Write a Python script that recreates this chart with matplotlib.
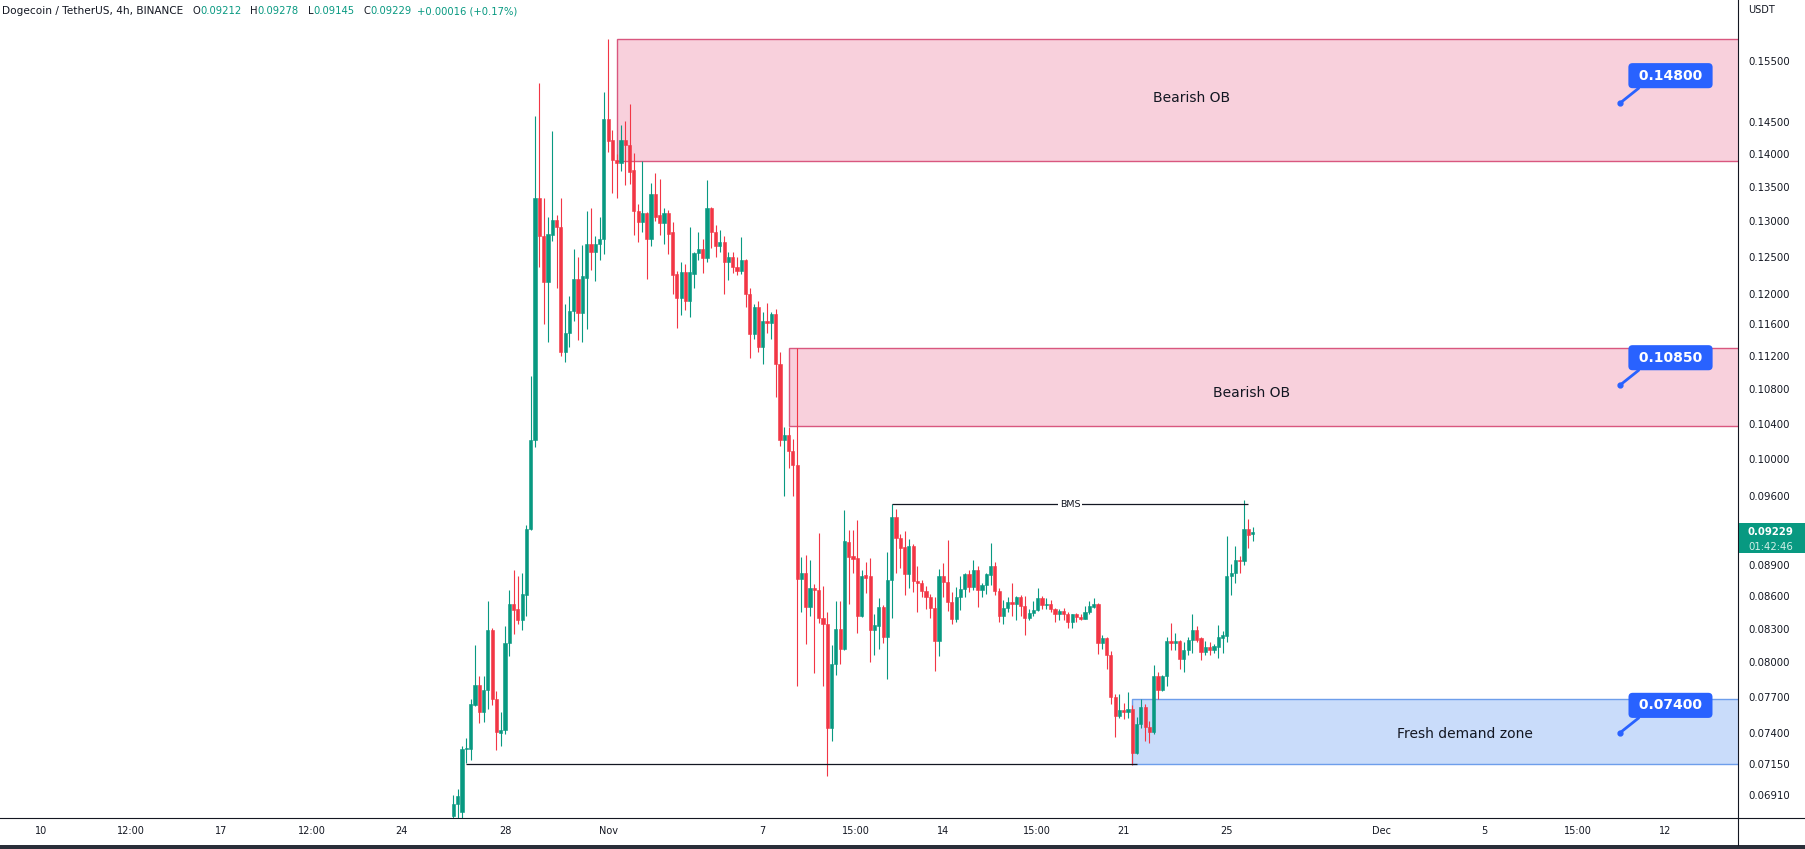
import matplotlib
matplotlib.use("Agg")
import matplotlib.pyplot as plt
import matplotlib.dates as mdates
from matplotlib.patches import Rectangle
from matplotlib.lines import Line2D
from matplotlib.ticker import NullLocator
import numpy as np
import pandas as pd

# DOGE/USDT 4h candles, first candle 2022-10-26 00:00
opens = [0.0675, 0.0684, 0.0678, 0.0727, 0.0727, 0.0763, 0.0780, 0.0757, 0.0776, 0.0829,
         0.0768, 0.0740, 0.0742, 0.0817, 0.0853, 0.0848, 0.0838, 0.0861, 0.0926, 0.1022,
         0.1334, 0.1278, 0.1216, 0.1280, 0.1302, 0.1291, 0.1126, 0.1149, 0.1177, 0.1219,
         0.1175, 0.1221, 0.1267, 0.1257, 0.1267, 0.1274, 0.1455, 0.1421, 0.1390, 0.1385,
         0.1421, 0.1414, 0.1375, 0.1315, 0.1298, 0.1311, 0.1275, 0.1339, 0.1309, 0.1297,
         0.1311, 0.1284, 0.1226, 0.1194, 0.1229, 0.1190, 0.1226, 0.1255, 0.1261, 0.1248,
         0.1319, 0.1285, 0.1264, 0.1270, 0.1243, 0.1249, 0.1236, 0.1231, 0.1246, 0.1200,
         0.1148, 0.1183, 0.1132, 0.1165, 0.1162, 0.1173, 0.1111, 0.1021, 0.1027, 0.1009,
         0.0994, 0.0877, 0.0882, 0.0850, 0.0868, 0.0866, 0.0840, 0.0834, 0.0744, 0.0798,
         0.0830, 0.0812, 0.0913, 0.0899, 0.0897, 0.0842, 0.0880, 0.0879, 0.0829, 0.0832,
         0.0850, 0.0822, 0.0876, 0.0938, 0.0917, 0.0908, 0.0881, 0.0909, 0.0875, 0.0873,
         0.0865, 0.0859, 0.0849, 0.0819, 0.0879, 0.0874, 0.0855, 0.0839, 0.0859, 0.0867,
         0.0881, 0.0869, 0.0885, 0.0866, 0.0871, 0.0880, 0.0889, 0.0865, 0.0842, 0.0849,
         0.0855, 0.0853, 0.0859, 0.0851, 0.0840, 0.0844, 0.0847, 0.0858, 0.0852, 0.0853,
         0.0848, 0.0843, 0.0846, 0.0843, 0.0836, 0.0843, 0.0841, 0.0839, 0.0845, 0.0850,
         0.0853, 0.0817, 0.0821, 0.0806, 0.0770, 0.0754, 0.0759, 0.0757, 0.0760, 0.0724,
         0.0747, 0.0761, 0.0745, 0.0741, 0.0788, 0.0776, 0.0788, 0.0819, 0.0817, 0.0819,
         0.0803, 0.0811, 0.0820, 0.0829, 0.0821, 0.0809, 0.0813, 0.0811, 0.0813, 0.0821,
         0.0823, 0.0879, 0.0882, 0.0895, 0.0894, 0.0926, 0.09212]
highs = [0.0691, 0.0696, 0.0729, 0.0736, 0.0768, 0.0815, 0.0788, 0.0788, 0.0856, 0.0831,
         0.0775, 0.0757, 0.0832, 0.0866, 0.0885, 0.0879, 0.0882, 0.0930, 0.1096, 0.1459,
         0.1514, 0.1333, 0.1306, 0.1435, 0.1309, 0.1333, 0.1186, 0.1197, 0.1261, 0.1250,
         0.1266, 0.1314, 0.1318, 0.1278, 0.1306, 0.1499, 0.1589, 0.1437, 0.1400, 0.1445,
         0.1451, 0.1479, 0.1401, 0.1325, 0.1388, 0.1313, 0.1356, 0.1370, 0.1361, 0.1319,
         0.1316, 0.1299, 0.1231, 0.1243, 0.1240, 0.1291, 0.1256, 0.1284, 0.1275, 0.1360,
         0.1320, 0.1294, 0.1287, 0.1278, 0.1257, 0.1257, 0.1249, 0.1277, 0.1247, 0.1208,
         0.1187, 0.1190, 0.1176, 0.1188, 0.1176, 0.1180, 0.1126, 0.1036, 0.1036, 0.1023,
         0.1130, 0.0898, 0.0900, 0.0895, 0.0872, 0.0922, 0.0870, 0.0845, 0.0815, 0.0856,
         0.0856, 0.0946, 0.0925, 0.0925, 0.0935, 0.0885, 0.0893, 0.0897, 0.0843, 0.0858,
         0.0852, 0.0903, 0.0952, 0.0947, 0.0921, 0.0924, 0.0916, 0.0911, 0.0889, 0.0876,
         0.0870, 0.0862, 0.0859, 0.0886, 0.0892, 0.0915, 0.0864, 0.0869, 0.0879, 0.0882,
         0.0885, 0.0895, 0.0889, 0.0873, 0.0882, 0.0912, 0.0893, 0.0868, 0.0857, 0.0859,
         0.0873, 0.0860, 0.0861, 0.0860, 0.0848, 0.0856, 0.0868, 0.0860, 0.0858, 0.0857,
         0.0849, 0.0848, 0.0849, 0.0845, 0.0843, 0.0844, 0.0843, 0.0851, 0.0856, 0.0858,
         0.0854, 0.0824, 0.0822, 0.0810, 0.0772, 0.0772, 0.0765, 0.0774, 0.0763, 0.0753,
         0.0768, 0.0764, 0.0750, 0.0797, 0.0791, 0.0789, 0.0822, 0.0835, 0.0826, 0.0820,
         0.0818, 0.0822, 0.0843, 0.0832, 0.0822, 0.0819, 0.0818, 0.0816, 0.0833, 0.0828,
         0.0919, 0.0891, 0.0909, 0.0899, 0.0956, 0.0936, 0.09278]
lows = [0.0665, 0.0672, 0.0672, 0.0716, 0.0718, 0.0762, 0.0748, 0.0749, 0.0760, 0.0763,
        0.0726, 0.0729, 0.0739, 0.0805, 0.0825, 0.0834, 0.0829, 0.0842, 0.0925, 0.1014,
        0.1236, 0.1160, 0.1138, 0.1271, 0.1208, 0.1121, 0.1113, 0.1132, 0.1165, 0.1140,
        0.1138, 0.1154, 0.1232, 0.1217, 0.1245, 0.1254, 0.1403, 0.1340, 0.1333, 0.1373,
        0.1352, 0.1354, 0.1280, 0.1270, 0.1285, 0.1219, 0.1264, 0.1300, 0.1280, 0.1267,
        0.1254, 0.1200, 0.1156, 0.1172, 0.1179, 0.1170, 0.1207, 0.1245, 0.1227, 0.1242,
        0.1262, 0.1250, 0.1257, 0.1200, 0.1218, 0.1228, 0.1225, 0.1226, 0.1182, 0.1118,
        0.1141, 0.1125, 0.1111, 0.1149, 0.1141, 0.1071, 0.1015, 0.0960, 0.0990, 0.0960,
        0.0779, 0.0845, 0.0816, 0.0842, 0.0790, 0.0835, 0.0779, 0.0706, 0.0733, 0.0789,
        0.0798, 0.0811, 0.0853, 0.0882, 0.0826, 0.0841, 0.0863, 0.0800, 0.0806, 0.0812,
        0.0817, 0.0785, 0.0840, 0.0882, 0.0887, 0.0861, 0.0868, 0.0864, 0.0845, 0.0859,
        0.0848, 0.0840, 0.0792, 0.0805, 0.0859, 0.0846, 0.0834, 0.0836, 0.0847, 0.0859,
        0.0864, 0.0866, 0.0850, 0.0859, 0.0862, 0.0871, 0.0861, 0.0836, 0.0834, 0.0845,
        0.0842, 0.0838, 0.0842, 0.0824, 0.0838, 0.0842, 0.0846, 0.0848, 0.0848, 0.0845,
        0.0836, 0.0838, 0.0838, 0.0831, 0.0831, 0.0836, 0.0838, 0.0839, 0.0843, 0.0849,
        0.0807, 0.0812, 0.0794, 0.0764, 0.0737, 0.0752, 0.0751, 0.0752, 0.0714, 0.0723,
        0.0744, 0.0733, 0.0732, 0.0739, 0.0768, 0.0775, 0.0779, 0.0811, 0.0811, 0.0794,
        0.0791, 0.0806, 0.0808, 0.0818, 0.0802, 0.0806, 0.0806, 0.0808, 0.0804, 0.0808,
        0.0818, 0.0861, 0.0873, 0.0882, 0.0890, 0.0907, 0.09145]
closes = [0.0684, 0.0690, 0.0727, 0.0728, 0.0764, 0.0780, 0.0757, 0.0776, 0.0829, 0.0768,
          0.0741, 0.0742, 0.0817, 0.0853, 0.0847, 0.0838, 0.0862, 0.0926, 0.1022, 0.1334,
          0.1278, 0.1216, 0.1282, 0.1302, 0.1291, 0.1126, 0.1149, 0.1177, 0.1219, 0.1175,
          0.1224, 0.1267, 0.1257, 0.1267, 0.1274, 0.1455, 0.1419, 0.1390, 0.1385, 0.1421,
          0.1413, 0.1372, 0.1314, 0.1298, 0.1311, 0.1275, 0.1339, 0.1306, 0.1297, 0.1311,
          0.1282, 0.1225, 0.1194, 0.1229, 0.1190, 0.1229, 0.1255, 0.1261, 0.1248, 0.1319,
          0.1284, 0.1264, 0.1270, 0.1243, 0.1249, 0.1236, 0.1231, 0.1246, 0.1200, 0.1148,
          0.1183, 0.1132, 0.1165, 0.1162, 0.1173, 0.1111, 0.1022, 0.1027, 0.1009, 0.0994,
          0.0877, 0.0882, 0.0850, 0.0868, 0.0866, 0.0840, 0.0834, 0.0744, 0.0798, 0.0830,
          0.0812, 0.0914, 0.0898, 0.0896, 0.0842, 0.0879, 0.0878, 0.0829, 0.0833, 0.0850,
          0.0822, 0.0876, 0.0938, 0.0917, 0.0907, 0.0881, 0.0909, 0.0875, 0.0873, 0.0865,
          0.0859, 0.0849, 0.0819, 0.0879, 0.0874, 0.0855, 0.0839, 0.0859, 0.0867, 0.0881,
          0.0869, 0.0885, 0.0866, 0.0871, 0.0881, 0.0889, 0.0865, 0.0842, 0.0849, 0.0855,
          0.0853, 0.0859, 0.0851, 0.0840, 0.0844, 0.0847, 0.0858, 0.0852, 0.0853, 0.0848,
          0.0843, 0.0846, 0.0843, 0.0836, 0.0843, 0.0841, 0.0839, 0.0845, 0.0851, 0.0853,
          0.0817, 0.0821, 0.0806, 0.0770, 0.0754, 0.0759, 0.0757, 0.0760, 0.0724, 0.0747,
          0.0761, 0.0745, 0.0741, 0.0788, 0.0776, 0.0788, 0.0819, 0.0817, 0.0819, 0.0803,
          0.0811, 0.0820, 0.0829, 0.0820, 0.0809, 0.0813, 0.0811, 0.0814, 0.0822, 0.0824,
          0.0879, 0.0882, 0.0895, 0.0894, 0.0926, 0.0920, 0.09229]

# zones: (low, high, index of first candle)
zone_top = (0.1388, 0.1589, 38)
zone_mid = (0.1037, 0.1130, 78)
zone_demand = (0.0715, 0.0768, 158)
zone_labels = ["Bearish OB", "Bearish OB", "Fresh demand zone"]

callout_prices = [0.148, 0.1085, 0.074]
callout_labels = ["0.14800", "0.10850", "0.07400"]

bms_level = 0.0952
low_line_level = 0.0715

ytick_vals = [0.155, 0.145, 0.14, 0.135, 0.13, 0.125, 0.12, 0.116, 0.112, 0.108, 0.104,
              0.100, 0.096, 0.089, 0.086, 0.083, 0.080, 0.077, 0.074, 0.0715, 0.0691]
xtick_dates = ["2022-10-10", "2022-10-13 12:00", "2022-10-17", "2022-10-20 12:00",
               "2022-10-24", "2022-10-28", "2022-11-01", "2022-11-07", "2022-11-10 15:00",
               "2022-11-14", "2022-11-17 15:00", "2022-11-21", "2022-11-25", "2022-12-01",
               "2022-12-05", "2022-12-08 15:00", "2022-12-12"]
xtick_labels = ["10", "12:00", "17", "12:00", "24", "28", "Nov", "7", "15:00", "14",
                "15:00", "21", "25", "Dec", "5", "15:00", "12"]

GREEN = "#089981"
RED = "#f23645"
TXT = "#131722"
BLUE = "#2962ff"
W, H = 1806, 849

plt.rcParams["font.family"] = ["DejaVu Sans"]

times = pd.date_range("2022-10-26 00:00", periods=len(opens), freq="4h")
x = mdates.date2num(times.to_pydatetime())
o, hi, lo, c = map(np.array, (opens, highs, lows, closes))
cols = np.where(c >= o, GREEN, RED)

fig = plt.figure(figsize=(W / 100, H / 100), dpi=100)
fig.patch.set_facecolor("white")
ax = fig.add_axes([0, 31 / H, 1738 / W, 818 / H])
ax.set_yscale("log")
ax.set_ylim(0.06738, 0.1658)
d0 = mdates.date2num(pd.Timestamp("2022-10-28"))
ax.set_xlim(d0 - 19.59, d0 + 47.83)
xmax = d0 + 60

def d(s):
    return mdates.date2num(pd.Timestamp(s))

# zones
for (zlo, zhi, i0), fc, ec in [(zone_top, "#f8d0dc", "#d9577f"),
                               (zone_mid, "#f8d0dc", "#d9577f"),
                               (zone_demand, "#c9dcfa", "#6d9eeb")]:
    ax.add_patch(Rectangle((x[i0], zlo), xmax - x[i0], zhi - zlo, fc=fc, ec=ec,
                           lw=1.0, zorder=1))

ax.text(d("2022-11-23 15:00"), 0.1488, zone_labels[0], ha="center", va="center",
        fontsize=10, color=TXT, zorder=5)
ax.text(d("2022-11-25 23:00"), 0.1076, zone_labels[1], ha="center", va="center",
        fontsize=10, color=TXT, zorder=5)
ax.text(d("2022-12-04 06:00"), 0.0739, zone_labels[2], ha="center", va="center",
        fontsize=10, color=TXT, zorder=5)

# candles
ax.vlines(x, lo, hi, colors=cols, lw=0.8, zorder=3)
ax.bar(x, np.abs(c - o), width=0.74 / 6, bottom=np.minimum(o, c), color=cols,
       edgecolor=cols, linewidth=0.4, zorder=4)

# lines
ax.hlines(low_line_level, x[3], x[159], color=TXT, lw=0.9, zorder=5)
ax.hlines(bms_level, x[102], x[185], color=TXT, lw=0.9, zorder=5)
ax.text((x[102] + x[185]) / 2, bms_level, "BMS", ha="center", va="center", fontsize=6.8,
        color=TXT, zorder=6, bbox=dict(fc="white", ec="none", pad=1.5))

# callouts
xa = d("2022-12-10 06:00")
for p, lab in zip(callout_prices, callout_labels):
    ax.plot(xa, p, "o", ms=3.5, color=BLUE, zorder=7)
    ax.annotate(" " + lab + " ", xy=(xa, p), xytext=(36.4, 19.8), textcoords="offset points",
                ha="center", va="center", fontsize=10, fontweight="bold", color="white",
                zorder=8,
                bbox=dict(boxstyle="round,pad=0.4,rounding_size=0.3", fc=BLUE, ec="none"),
                arrowprops=dict(arrowstyle="-", color=BLUE, lw=2.0, shrinkA=0, shrinkB=0,
                                relpos=(0.16, 0.0)))

# axes styling
ax.yaxis.tick_right()
ax.set_yticks(ytick_vals)
ax.set_yticklabels([f"{v:.5f}" for v in ytick_vals])
ax.yaxis.set_minor_locator(NullLocator())
ax.tick_params(axis="y", length=0, pad=7.2, labelsize=7.3, labelcolor=TXT)
ax.set_xticks([d(s) for s in xtick_dates])
ax.set_xticklabels(xtick_labels)
ax.xaxis.set_minor_locator(NullLocator())
ax.tick_params(axis="x", length=0, pad=6, labelsize=7, labelcolor=TXT)
for s in ("left", "top"):
    ax.spines[s].set_visible(False)
for s in ("right", "bottom"):
    ax.spines[s].set_color(TXT)
    ax.spines[s].set_linewidth(0.8)

fig.add_artist(Line2D([1738 / W, 1], [31 / H, 31 / H], color=TXT, lw=0.8,
                      transform=fig.transFigure))
fig.add_artist(Line2D([1738 / W, 1738 / W], [4 / H, 31 / H], color=TXT, lw=0.8,
                      transform=fig.transFigure))
fig.add_artist(Rectangle((0, 0), 1, 4 / H, fc="#2a2e39", ec="none",
                         transform=fig.transFigure))
fig.text(1748 / W, 1 - 10 / H, "USDT", fontsize=7, color=TXT, ha="left", va="center")

# header legend
pieces = [("O", TXT, 9), ("0.09212", GREEN, 0), ("H", TXT, 9), ("0.09278", GREEN, 0),
          ("L", TXT, 9), ("0.09145", GREEN, 0), ("C", TXT, 9), ("0.09229", GREEN, 0),
          ("+0.00016 (+0.17%)", GREEN, 5)]
t = fig.text(2 / W, 1 - 11.5 / H, "Dogecoin / TetherUS, 4h, BINANCE", fontsize=7.6,
             color=TXT, ha="left", va="center")
for s, col, gap in pieces:
    t = ax.annotate(s, xy=(1, 0), xycoords=t, xytext=(gap, 0), textcoords="offset pixels",
                    ha="left", va="bottom", fontsize=7.2, color=col, annotation_clip=False)

# last price label
last = closes[-1]
yp = ax.transData.transform((x[-1], last))[1]
fig.add_artist(Rectangle((1739 / W, (yp - 21) / H), 67 / W, 30 / H, fc=GREEN, ec="none",
                         transform=fig.transFigure))
fig.text(1748 / W, yp / H, f"{last:.5f}", fontsize=7.3, fontweight="bold", color="white",
         ha="left", va="center")
fig.text(1748 / W, (yp - 15) / H, "01:42:46", fontsize=7.3, color="#d2f0e9",
         ha="left", va="center")

fig.savefig("out.png", dpi=100, facecolor="white")
